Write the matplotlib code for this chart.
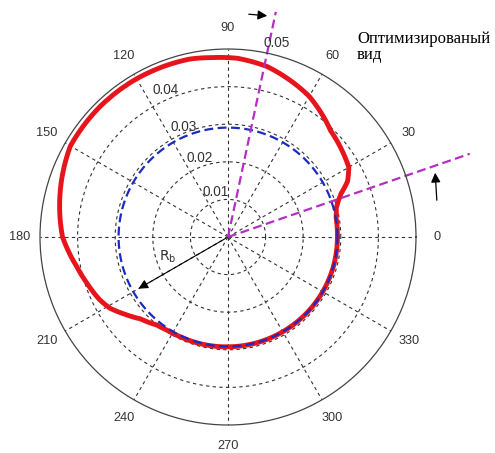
import numpy as np
import matplotlib.pyplot as plt

# optimised profile (angle in degrees, radius)
red_deg = [0, 10, 15, 18, 21, 25, 30, 36, 46, 60, 77, 87, 95, 102, 121, 134, 150,
           161, 180, 191, 198, 206, 211, 217, 223, 231, 237, 245, 270, 300,
           330, 360]
red_r = [0.0291, 0.0292, 0.0298, 0.0308, 0.0322, 0.0351, 0.0371, 0.0379, 0.0393,
         0.0432, 0.0465, 0.0476, 0.0479, 0.0484, 0.0486, 0.0486, 0.0484, 0.0468,
         0.0440, 0.0410, 0.0395, 0.0380, 0.0367, 0.0342, 0.0319, 0.0301, 0.0296,
         0.0294, 0.0292, 0.0291, 0.0291, 0.0291]

# base circle
rb = 0.0291

# boundary directions of the optimised zone
zone_deg = [19, 78]
zone_len = [0.068, 0.0612]

rings = [0.01, 0.02, 0.03, 0.04]
rmax = 0.05
angle_ticks = list(range(0, 360, 30))

fig = plt.figure(figsize=(4.95, 4.53), dpi=100)
ax = fig.add_axes([0.0808, 0.0618, 0.7596, 0.830], projection='polar')
ax.set_ylim(0, rmax)

grid_kw = dict(color='#333333', lw=0.8, ls=(0, (3, 3)))
ax.grid(False)
th = np.linspace(0, 2 * np.pi, 400)
for r in rings:
    ax.plot(th, np.full_like(th, r), **grid_kw)
for a in angle_ticks:
    ax.plot([np.radians(a)] * 2, [0, rmax], **grid_kw)

ax.spines['polar'].set_color('#444444')
ax.spines['polar'].set_linewidth(0.9)
ax.set_yticks([])
ax.set_xticks(np.radians(angle_ticks))
ax.set_xticklabels([str(a) for a in angle_ticks], fontsize=9.2,
                   color='#333333', family='Liberation Sans')
ax.tick_params(axis='x', pad=8, length=0)

# ring labels
label_pos = {0.01: (105, 0.0124), 0.02: (109.5, 0.0223), 0.03: (112, 0.0316),
             0.04: (113, 0.0425)}
txt_kw = dict(ha='center', va='center', fontsize=9.8, color='#333333',
              family='Liberation Sans')
for r in rings:
    a, rr = label_pos[r]
    ax.text(np.radians(a), rr, f'{r:g}', **txt_kw)
ax.text(np.radians(76), 0.0532, f'{rmax:g}', clip_on=False, **txt_kw)

red_line, = ax.plot(np.radians(red_deg), red_r, color='#e8141c', lw=3.5,
                    solid_joinstyle='round', solid_capstyle='round')
# follow the polar grid between samples instead of straight chords
red_line.get_path()._interpolation_steps = 40
ax.plot(th, np.full_like(th, rb), color='#1a2bbf', lw=1.6, ls=(0, (4, 2)))

for a, L in zip(zone_deg, zone_len):
    ax.plot([np.radians(a)] * 2, [0, L], color='#b12fc2', lw=1.6,
            ls=(0, (4, 2)), clip_on=False)

# R_b arrow
ax.annotate('', xy=(np.radians(210), rb * 0.97), xytext=(0, 0),
            arrowprops=dict(arrowstyle='-|>', color='black', lw=0.8,
                            mutation_scale=14))
ax.text(np.radians(198), 0.0168, r'R$_\mathrm{b}$', ha='center', va='center',
        fontsize=10, color='#333333')

# arrows pointing at the zone boundaries
arrow_kw = dict(arrowstyle='-|>', color='black', lw=0.9, mutation_scale=14)
ax.annotate('', xy=(270, 437), xytext=(246, 439), xycoords='figure pixels',
            arrowprops=arrow_kw, annotation_clip=False)
ax.annotate('', xy=(435, 283), xytext=(437, 250), xycoords='figure pixels',
            arrowprops=arrow_kw, annotation_clip=False)

fig.text(357 / 495, 1 - 31 / 453, 'Оптимизированый\nвид', ha='left', va='top',
         family='Liberation Serif', fontsize=12, linespacing=1.0)

fig.savefig('out.png', dpi=100)
